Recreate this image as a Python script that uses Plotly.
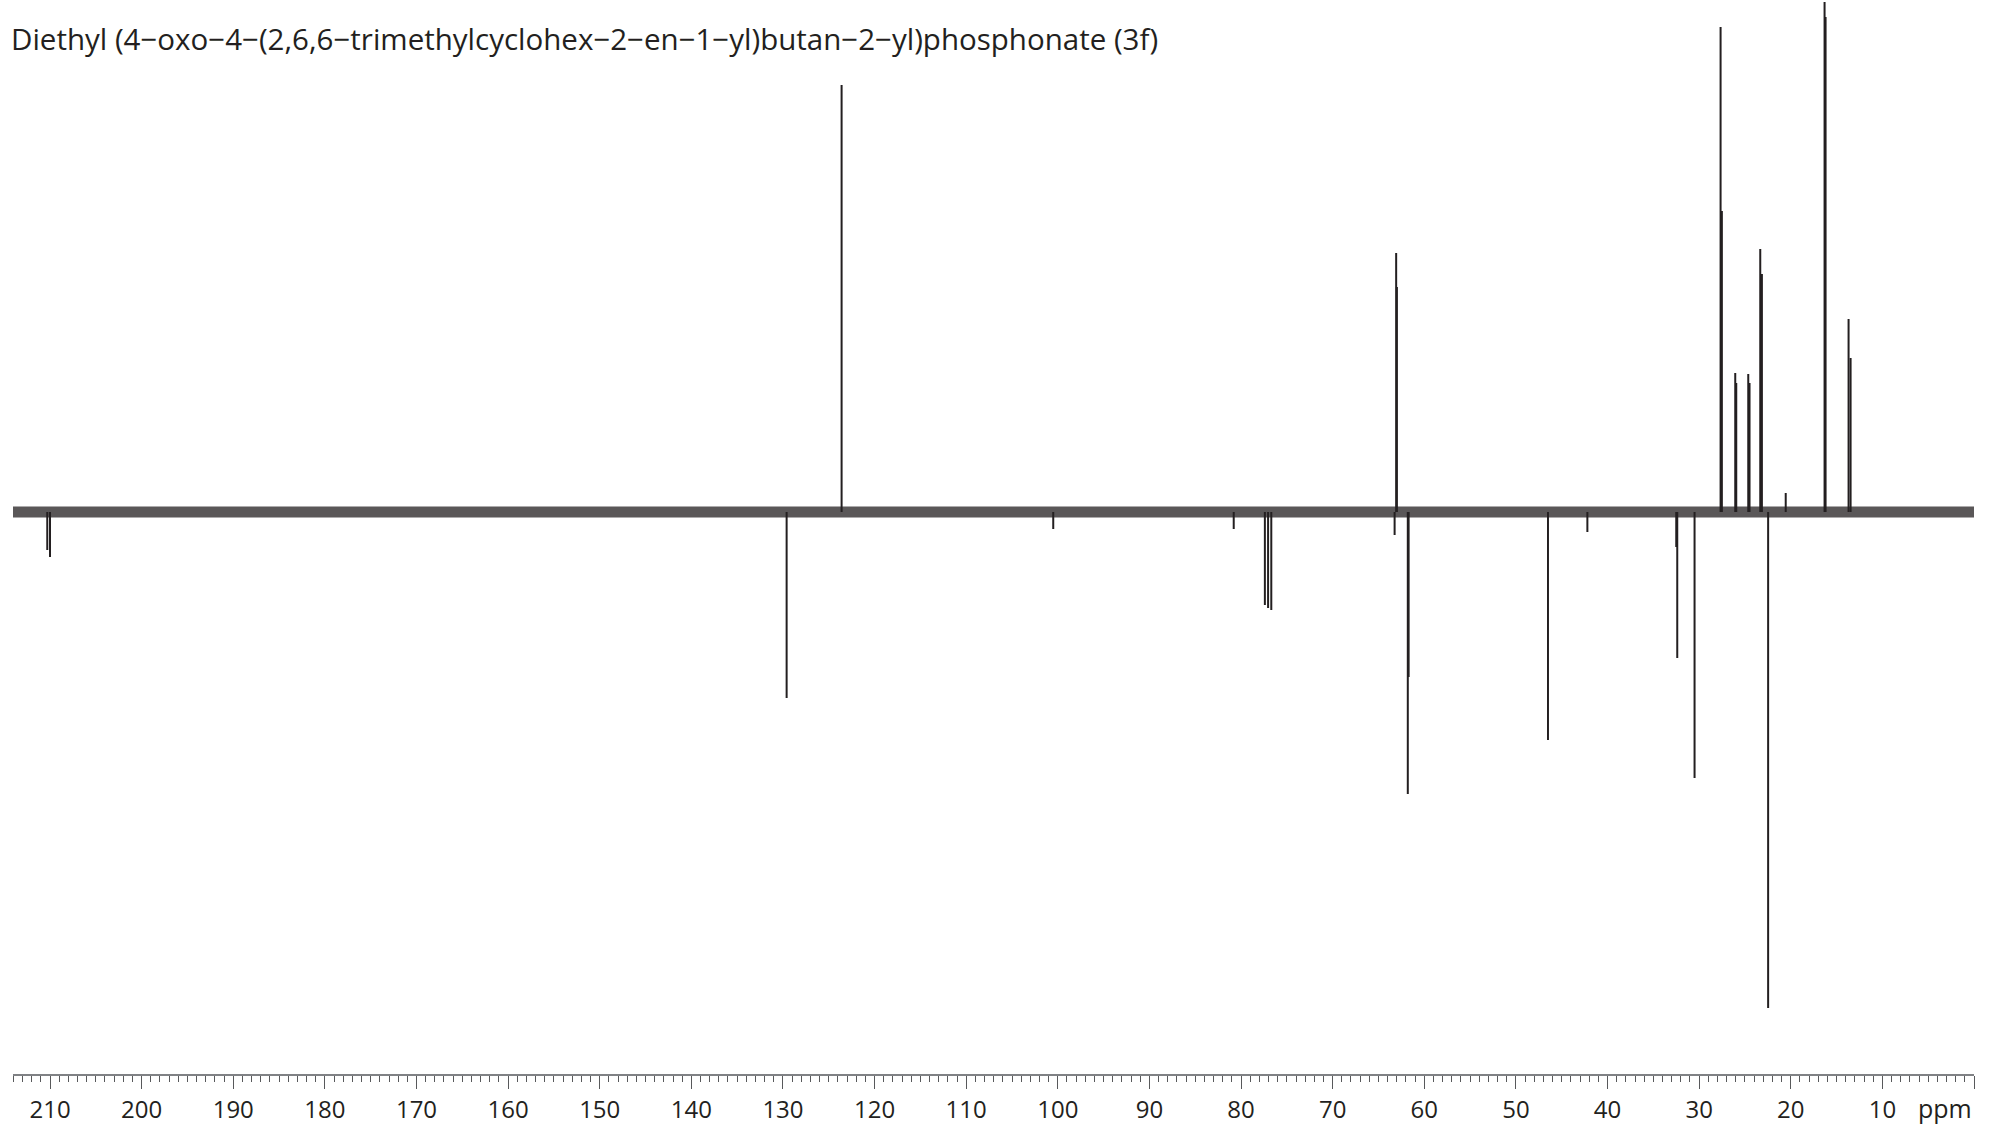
import plotly.graph_objects as go

# ---- data (ppm, relative intensity) ----
title_text = "Diethyl (4\u2212oxo\u22124\u2212(2,6,6\u2212trimethylcyclohex\u22122\u2212en\u22121\u2212yl)butan\u22122\u2212yl)phosphonate (3f)"

pos_ppm = [123.60, 63.07, 62.99, 27.66, 27.52, 26.06, 25.95, 24.64, 24.50,
           23.33, 23.15, 16.31, 16.20, 13.69, 13.47]
pos_int = [427, 259, 225, 485, 301, 139, 129, 138, 129,
           263, 238, 510, 495, 193, 154]

neg_ppm = [210.30, 210.00, 129.60, 77.40, 77.05, 76.70, 61.80, 61.71,
           46.50, 32.50, 32.39, 30.50, 22.47]
neg_int = [-38, -45, -186, -93, -96, -98, -282, -165,
           -228, -35, -146, -266, -496]

minor_ppm = [63.24, 42.20, 100.5, 80.8, 20.55]
minor_int = [-23, -20, -17, -17, 19]

baseline_ppm = [214.04, 0.0]
baseline_int = [0, 0]

tick_vals = [0, 10, 20, 30, 40, 50, 60, 70, 80, 90, 100, 110, 120, 130, 140,
             150, 160, 170, 180, 190, 200, 210]
tick_text = ["", "10", "20", "30", "40", "50", "60", "70", "80", "90", "100",
             "110", "120", "130", "140", "150", "160", "170", "180", "190",
             "200", "210"]
axis_unit = "ppm"

# ---- build stick traces ----
all_ppm = pos_ppm + neg_ppm + minor_ppm
all_int = pos_int + neg_int + minor_int
sx, sy = [], []
for p, h in zip(all_ppm, all_int):
    sx += [p, p, None]
    sy += [0, h, None]

ink = "#231f20"
font_family = "Open Sans, sans-serif"

fig = go.Figure()
fig.add_trace(go.Scatter(x=baseline_ppm, y=baseline_int, mode="lines",
                         line=dict(color="#5a5758", width=11),
                         hoverinfo="skip"))
fig.add_trace(go.Scatter(x=sx, y=sy, mode="lines",
                         line=dict(color=ink, width=2),
                         hoverinfo="skip"))

fig.update_layout(
    width=1993, height=1128,
    margin=dict(l=13, r=19, t=0, b=54),
    paper_bgcolor="white", plot_bgcolor="white",
    showlegend=False,
    xaxis=dict(
        range=[214.04, 0], tickmode="array", tickvals=tick_vals, ticktext=tick_text,
        ticks="outside", ticklen=13, tickwidth=1, tickcolor="#58595b",
        showline=True, linecolor="#808285", linewidth=2,
        showgrid=False, zeroline=False,
        tickfont=dict(family=font_family, size=24, color=ink),
        minor=dict(dtick=1, tick0=0, ticks="outside", ticklen=6,
                   tickwidth=1, tickcolor="#58595b", showgrid=False),
    ),
    yaxis=dict(range=[-562, 512], visible=False),
    annotations=[
        dict(text=title_text, xref="paper", yref="paper", x=0, y=0.9646,
             xanchor="left", yanchor="middle", showarrow=False, xshift=-4,
             font=dict(family=font_family, size=29.5, color=ink)),
        dict(text=axis_unit, xref="x", yref="paper", x=0, y=-0.0317,
             xanchor="right", yanchor="middle", showarrow=False,
             font=dict(family=font_family, size=25, color=ink)),
    ],
)

fig.write_html("out.html", config={"displayModeBar": False},
               post_script="document.body.style.margin='0';")
